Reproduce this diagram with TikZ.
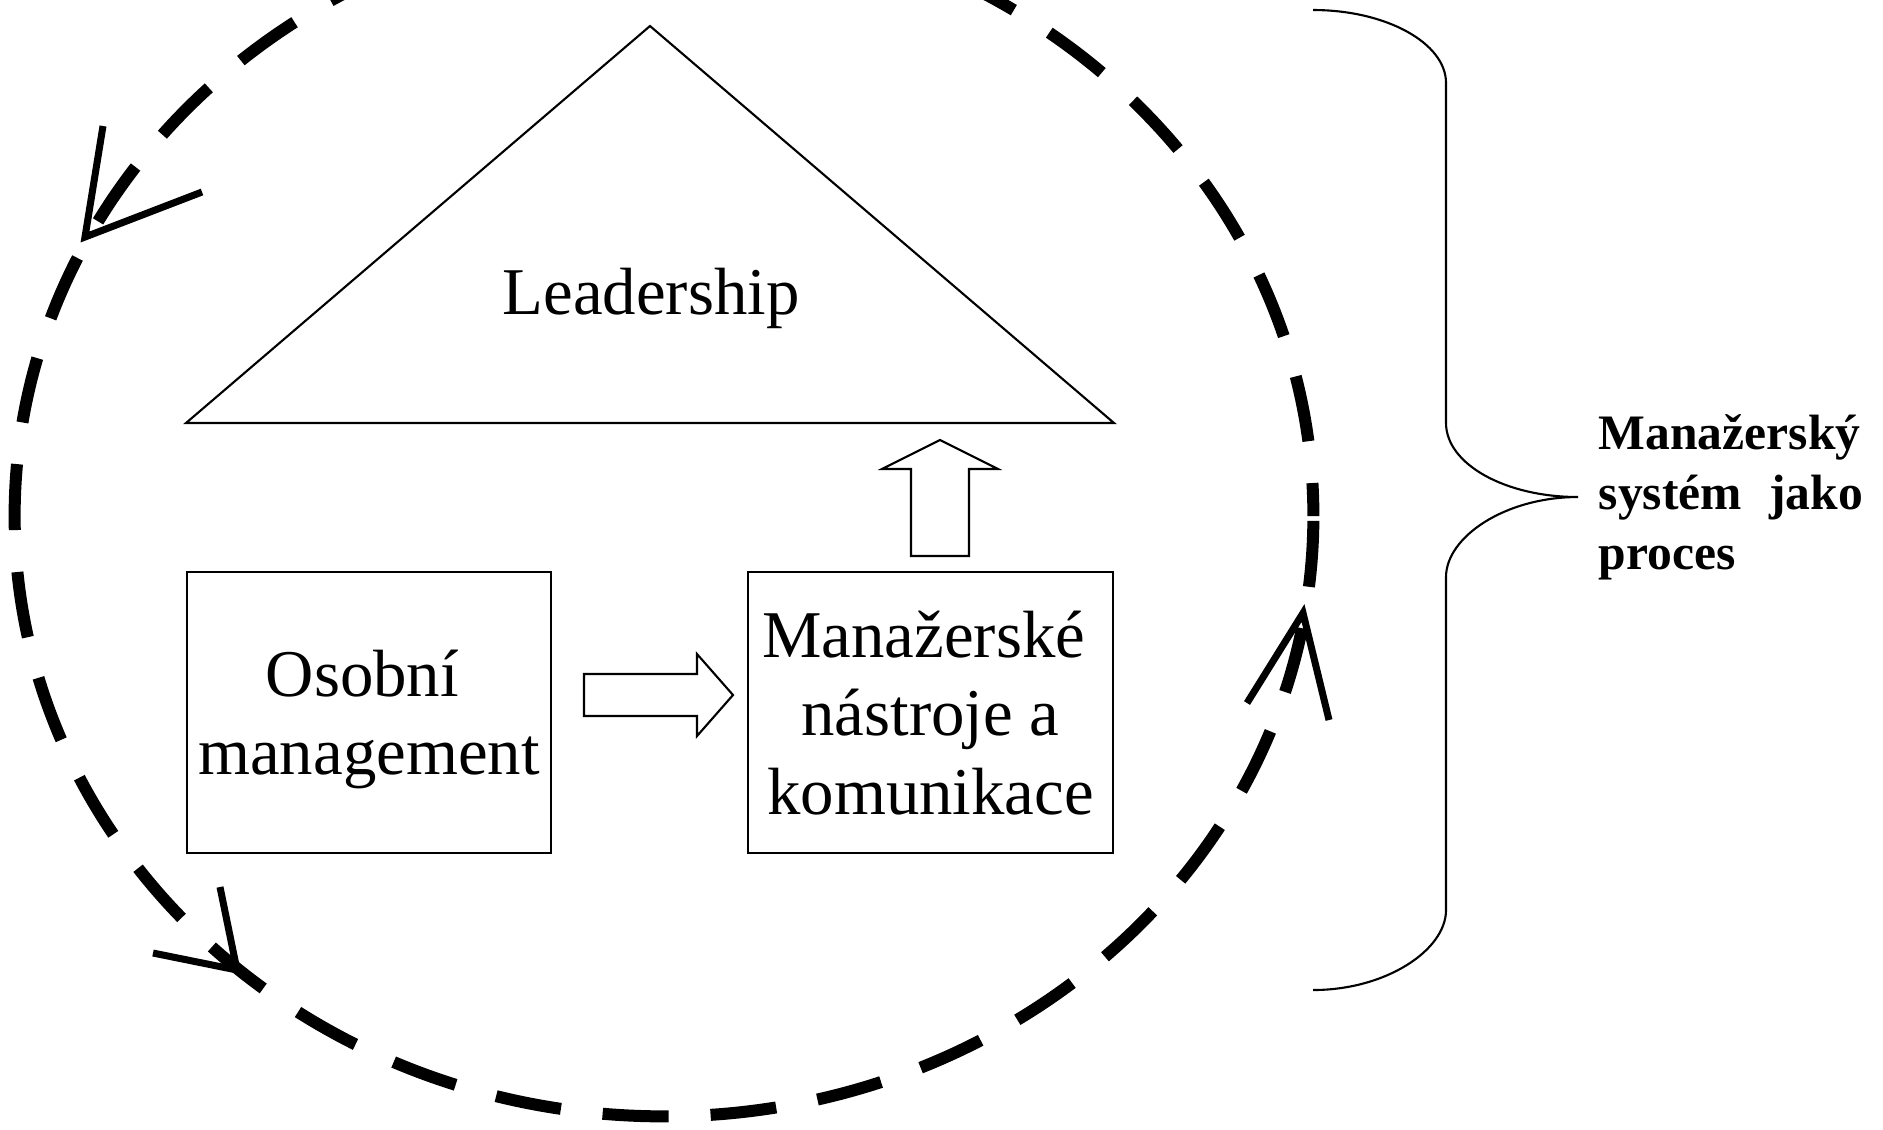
\documentclass[tikz,border=0pt]{standalone}
\usepackage{fontspec}
\setmainfont{Liberation Serif}
\usetikzlibrary{positioning}

\begin{document}
\begin{tikzpicture}[
    x=0.01cm, y=-0.01cm,
    outline/.style={line width=0.6pt},
    box/.style={rectangle, draw, line width=0.6pt, minimum width=3.64cm, minimum height=2.81cm, inner sep=0pt, align=center, text depth=0pt, font=\fontsize{19}{22.3}\selectfont},
    cycleline/.style={line width=0.12cm, dash pattern=on 0.66cm off 0.42cm, dash phase=0.33cm},
    wing/.style={line width=0.07cm}
]
\useasboundingbox (0,0) rectangle (1883,1129);

% Leadership triangle
\coordinate (apex) at (650,26);
\coordinate (baseL) at (186,423);
\coordinate (baseR) at (1114,423);
\draw[outline] (apex) -- (baseL) -- (baseR) -- cycle;
\node[anchor=base, inner sep=0pt, font=\fontsize{19}{22.3}\selectfont] (leader) at (651,314) {Leadership};

% Boxes
\node[box] (osobni) at (369,712.5) {Osobní\hspace*{0.2em}\\management};
\node[box] (nastroje) at (930.5,712.5) {Manažerské\hspace*{0.2em}\\nástroje a\hspace*{0.3em}\\komunikace};

% Block arrows
\coordinate (rtip) at (733,695);
\draw[outline] (rtip) -- ++(-36,-41) -- ++(0,20) -- ++(-113,0) -- ++(0,42) -- ++(113,0) -- ++(0,20) -- cycle;
\coordinate (utip) at (940,440);
\draw[outline] (utip) -- ++(58,29) -- ++(-29,0) -- ++(0,87) -- ++(-58,0) -- ++(0,-87) -- ++(-29,0) -- cycle;

% Process cycle
\coordinate (mid) at (664,516);
\draw[cycleline] (mid) ellipse [x radius=6.49cm, y radius=6cm];

% Arrowheads on the cycle
\coordinate (tipA) at (85,237);
\coordinate (tipB) at (237,970);
\coordinate (tipC) at (1303,613);
\draw[wing] (103,126) -- (tipA) -- (202,192);
\draw[wing] (220,887) -- (tipB) -- (153,953);
\draw[wing] (1247,703) -- (tipC) -- (1329,720);

% Brace
\coordinate (braceTip) at (1578,497);
\draw[outline] (1313,10) .. controls (1386,10) and (1446,43) .. (1446,83) -- (1446,423)
    .. controls (1446,464) and (1505,497) .. (braceTip)
    .. controls (1505,497) and (1446,537) .. (1446,577) -- (1446,910)
    .. controls (1446,950) and (1386,990) .. (1313,990);

\node[right=0.2cm of braceTip, inner sep=0pt, text width=2.64cm, align=left, font=\fontsize{14.1}{17}\selectfont\bfseries] (system) {Manažerský\\systém\hfill jako\\proces};

\end{tikzpicture}
\end{document}
